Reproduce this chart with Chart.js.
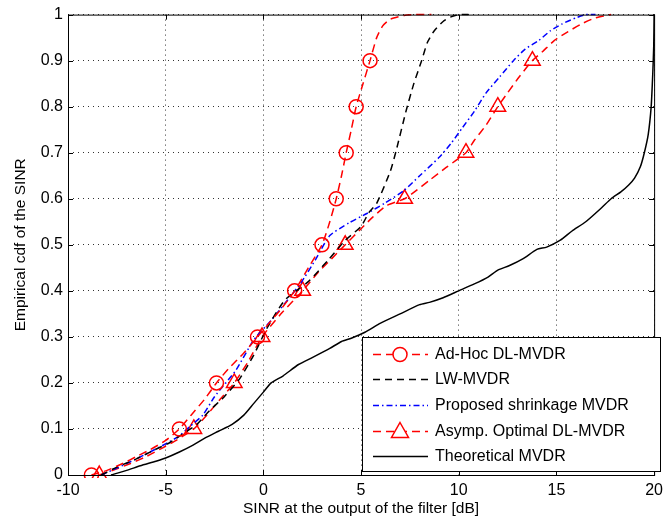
<!DOCTYPE html>
<html>
<head>
<meta charset="utf-8">
<script src="https://cdn.jsdelivr.net/npm/chart.js"></script>
<style>
  html, body { margin: 0; padding: 0; background: #fff; }
  #wrap { width: 669px; height: 522px; }
</style>
</head>
<body>
<div id="wrap"><canvas id="cdfChart" width="669" height="522"></canvas></div>
<script>
// values (SINR in dB, empirical cdf)
const xTicks = [-10, -5, 0, 5, 10, 15, 20];
const yTicks = [0, 0.1, 0.2, 0.3, 0.4, 0.5, 0.6, 0.7, 0.8, 0.9, 1];
const markerCdf = [0, 0.1, 0.2, 0.3, 0.4, 0.5, 0.6, 0.7, 0.8, 0.9];

const adHocX = [-8.8, -8.0, -7.2, -6.5, -5.8, -5.0, -4.3, -3.7, -3.0, -2.4, -1.8, -1.0, -0.3, 0.3, 0.9, 1.6, 2.3, 3.0, 3.4, 3.73, 4.0, 4.24, 4.5, 4.75, 5.1, 5.46, 5.8, 6.1, 6.5, 7.2, 7.8, 8.6];
const adHocCdf = [0, 0.01, 0.025, 0.04, 0.055, 0.075, 0.1, 0.13, 0.165, 0.2, 0.23, 0.265, 0.3, 0.33, 0.36, 0.4, 0.45, 0.5, 0.55, 0.6, 0.65, 0.7, 0.75, 0.8, 0.85, 0.9, 0.95, 0.975, 0.99, 0.998, 1, 1];

const lwX = [-8.3, -7.5, -6.5, -5.6, -4.8, -4.1, -3.4, -2.75, -2.0, -1.2, -0.5, 0.2, 1.1, 2.3, 3.3, 4.2, 5.0, 5.4, 5.8, 6.5, 6.8, 7.3, 7.7, 8.1, 8.4, 8.75, 9.2, 9.6, 10.0, 10.5];
const lwCdf = [0, 0.017, 0.035, 0.054, 0.07, 0.09, 0.11, 0.14, 0.17, 0.21, 0.26, 0.32, 0.38, 0.42, 0.466, 0.51, 0.54, 0.57, 0.59, 0.66, 0.705, 0.79, 0.85, 0.9, 0.94, 0.965, 0.985, 0.995, 1, 1];

const shrinkX = [-8.3, -7.5, -6.6, -5.8, -4.9, -4.3, -3.8, -3.1, -2.5, -1.4, -0.5, 0.4, 1.9, 2.7, 3.4, 4.4, 5.3, 6.2, 7.2, 8.0, 9.0, 9.6, 10.2, 10.8, 11.4, 12.1, 12.8, 13.4, 14.1, 14.7, 15.3, 16.0, 16.5, 17.0];
const shrinkCdf = [0, 0.015, 0.033, 0.05, 0.07, 0.085, 0.104, 0.13, 0.17, 0.228, 0.293, 0.336, 0.416, 0.47, 0.52, 0.548, 0.568, 0.59, 0.618, 0.65, 0.69, 0.72, 0.755, 0.79, 0.83, 0.865, 0.9, 0.925, 0.944, 0.965, 0.98, 0.993, 1, 1];

const asympX = [-8.4, -7.6, -6.8, -6.0, -5.2, -4.4, -3.56, -2.9, -2.2, -1.49, -0.8, -0.07, 0.9, 2.01, 2.8, 3.5, 4.19, 5.0, 5.6, 6.3, 7.23, 7.7, 8.5, 9.36, 10.37, 10.8, 11.4, 12.0, 12.5, 13.1, 13.77, 14.3, 14.9, 15.6, 16.3, 17.0, 17.8];
const asympCdf = [0, 0.012, 0.025, 0.04, 0.058, 0.077, 0.1, 0.13, 0.165, 0.2, 0.245, 0.3, 0.35, 0.4, 0.44, 0.47, 0.5, 0.535, 0.56, 0.585, 0.6, 0.614, 0.64, 0.668, 0.7, 0.727, 0.76, 0.8, 0.83, 0.865, 0.9, 0.92, 0.944, 0.963, 0.98, 0.993, 1];

const theoX = [-7.8, -7.0, -6.3, -5.5, -5.0, -4.3, -3.6, -3.0, -2.3, -1.6, -1.0, -0.5, 0.0, 0.4, 1.0, 1.8, 2.5, 3.4, 4.0, 4.5, 5.2, 6.0, 7.0, 8.0, 8.5, 9.2, 10.0, 10.8, 11.5, 12.0, 12.6, 13.3, 14.0, 14.5, 15.2, 15.8, 16.5, 17.3, 17.8, 18.3, 18.7, 19.0, 19.3, 19.5, 19.7, 19.85, 19.93, 19.98, 20.0];
const theoCdf = [0, 0.01, 0.02, 0.03, 0.037, 0.05, 0.065, 0.08, 0.095, 0.11, 0.13, 0.155, 0.18, 0.2, 0.215, 0.24, 0.255, 0.275, 0.29, 0.297, 0.31, 0.33, 0.35, 0.37, 0.375, 0.385, 0.4, 0.415, 0.43, 0.445, 0.455, 0.47, 0.49, 0.495, 0.51, 0.53, 0.55, 0.58, 0.6, 0.615, 0.63, 0.645, 0.67, 0.7, 0.74, 0.8, 0.87, 0.93, 1.0];

const seriesNames = ["Ad-Hoc DL-MVDR", "LW-MVDR", "Proposed shrinkage MVDR", "Asymp. Optimal DL-MVDR", "Theoretical MVDR"];

const FONT = "'Liberation Sans', Arial, sans-serif";

function toPoints(xs, ys) {
  return xs.map((x, i) => ({ x: x, y: ys[i] }));
}

// only the first point at each marker level gets a marker
function isMarker(ctx) {
  if (!ctx.raw || !markerCdf.includes(ctx.raw.y)) return false;
  const y = ctx.raw.y;
  return ctx.dataset.data.findIndex((p) => p.y === y) === ctx.index;
}

const lineStyles = [
  { color: "#ff0000", dash: [8, 5], marker: "circle", r: 7 },
  { color: "#000000", dash: [7, 5], marker: false, r: 0 },
  { color: "#0000ff", dash: [6, 3, 1.5, 3], marker: false, r: 0 },
  { color: "#ff0000", dash: [8, 5], marker: "triangle", r: 9 },
  { color: "#000000", dash: [], marker: false, r: 0 },
];

const seriesData = [
  toPoints(adHocX, adHocCdf),
  toPoints(lwX, lwCdf),
  toPoints(shrinkX, shrinkCdf),
  toPoints(asympX, asympCdf),
  toPoints(theoX, theoCdf),
];

// legend + box + inward tick marks, matlab style
const matlabFrame = {
  id: "matlabFrame",
  afterDraw(chart) {
    const ctx = chart.ctx;
    const a = chart.chartArea;
    const xs = chart.scales.x;
    const ys = chart.scales.y;
    ctx.save();
    ctx.strokeStyle = "#000";
    ctx.lineWidth = 1;
    ctx.setLineDash([]);
    ctx.strokeRect(a.left + 0.5, a.top + 0.5, a.right - a.left, a.bottom - a.top);
    ctx.beginPath();
    xTicks.forEach((t) => {
      const px = Math.round(xs.getPixelForValue(t)) + 0.5;
      ctx.moveTo(px, a.bottom); ctx.lineTo(px, a.bottom - 5);
      ctx.moveTo(px, a.top); ctx.lineTo(px, a.top + 5);
    });
    yTicks.forEach((t) => {
      const py = Math.round(ys.getPixelForValue(t)) + 0.5;
      ctx.moveTo(a.left, py); ctx.lineTo(a.left + 5, py);
      ctx.moveTo(a.right, py); ctx.lineTo(a.right - 5, py);
    });
    ctx.stroke();

    // legend box
    const bx = 362, by = 337, bw = 298, bh = 134;
    ctx.fillStyle = "#fff";
    ctx.fillRect(bx, by, bw, bh);
    ctx.strokeRect(bx + 0.5, by + 0.5, bw, bh);
    const rowY = [354, 379, 405, 431, 456];
    ctx.font = "16px " + FONT;
    ctx.textBaseline = "middle";
    ctx.textAlign = "left";
    seriesNames.forEach((name, i) => {
      const st = lineStyles[i];
      const y = rowY[i] + 0.5;
      ctx.strokeStyle = st.color;
      ctx.lineWidth = 1.5;
      ctx.setLineDash(st.dash);
      ctx.beginPath();
      ctx.moveTo(373, y); ctx.lineTo(428, y);
      ctx.stroke();
      ctx.setLineDash([]);
      if (st.marker === "circle") {
        ctx.fillStyle = "#fff";
        ctx.beginPath();
        ctx.arc(400, y, 7, 0, Math.PI * 2);
        ctx.fill();
        ctx.stroke();
      } else if (st.marker === "triangle") {
        ctx.fillStyle = "#fff";
        ctx.beginPath();
        ctx.moveTo(400, y - 9);
        ctx.lineTo(408.5, y + 6);
        ctx.lineTo(391.5, y + 6);
        ctx.closePath();
        ctx.fill();
        ctx.stroke();
      }
      ctx.fillStyle = "#000";
      ctx.fillText(name, 435, rowY[i] + 1);
    });
    ctx.restore();
  },
};

const chartCtx = document.getElementById("cdfChart").getContext("2d");
const cdfChart = new Chart(chartCtx, {
  type: "scatter",
  data: {
    datasets: seriesData.map((pts, i) => ({
      label: seriesNames[i],
      data: pts,
      showLine: true,
      borderColor: lineStyles[i].color,
      backgroundColor: "rgba(0,0,0,0)",
      borderWidth: 1.5,
      borderDash: lineStyles[i].dash,
      tension: 0.2,
      pointStyle: lineStyles[i].marker || "circle",
      pointRadius: lineStyles[i].marker ? (c) => (isMarker(c) ? lineStyles[i].r : 0) : 0,
      pointBorderWidth: 1.5,
      pointBorderColor: lineStyles[i].color,
      pointBackgroundColor: "rgba(0,0,0,0)",
      pointHoverRadius: 0,
      clip: 3,
    })),
  },
  options: {
    responsive: false,
    animation: false,
    events: [],
    layout: { padding: { top: 14, right: 9, left: 0, bottom: 0 } },
    plugins: { legend: { display: false }, tooltip: { enabled: false } },
    scales: {
      x: {
        type: "linear",
        min: -10,
        max: 20,
        afterBuildTicks: (s) => { s.ticks = xTicks.map((v) => ({ value: v })); },
        afterFit: (s) => { s.height = 47; },
        ticks: { color: "#000", font: { family: FONT, size: 16 }, padding: 6 },
        grid: { color: "#333", lineWidth: 1, drawTicks: false },
        border: { display: false, dash: [1, 4] },
        title: {
          display: true,
          text: "SINR at the output of the filter [dB]",
          color: "#000",
          font: { family: FONT, size: 15.5 },
          padding: { top: 0, bottom: 4 },
        },
      },
      y: {
        type: "linear",
        min: 0,
        max: 1,
        afterBuildTicks: (s) => { s.ticks = yTicks.map((v) => ({ value: v })); },
        afterFit: (s) => { s.width = 68; },
        ticks: { color: "#000", font: { family: FONT, size: 16 }, padding: 5, callback: (v) => String(v) },
        grid: { color: "#333", lineWidth: 1, drawTicks: false },
        border: { display: false, dash: [1, 4] },
        title: {
          display: true,
          text: "Empirical cdf of the SINR",
          color: "#000",
          font: { family: FONT, size: 15.5 },
          padding: { top: 11, bottom: 0 },
        },
      },
    },
  },
  plugins: [matlabFrame],
});
</script>
</body>
</html>
